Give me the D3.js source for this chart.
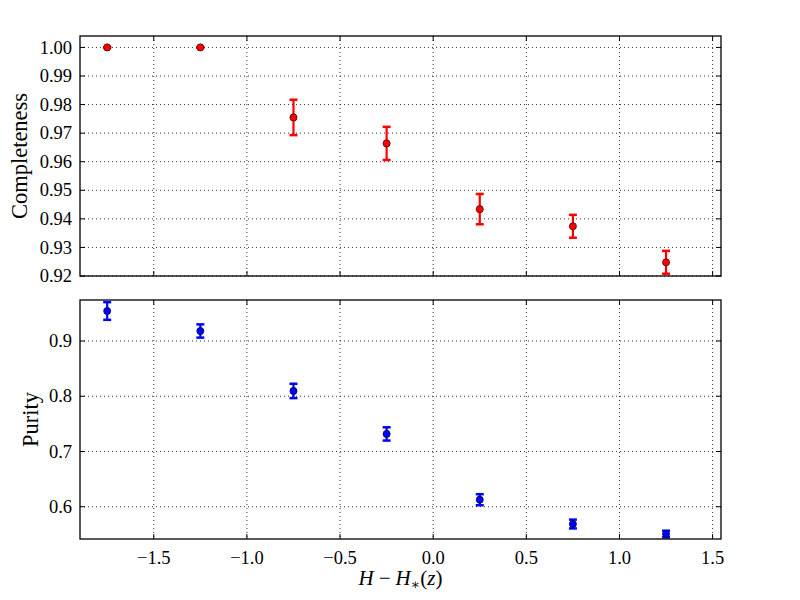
<!DOCTYPE html>
<html>
<head>
<meta charset="utf-8">
<script src="https://cdn.jsdelivr.net/npm/d3@7"></script>
<style>
body { margin: 0; background: #fff; }
text { font-family: "Liberation Serif", "DejaVu Serif", serif; fill: #000; }
</style>
</head>
<body>
<svg width="800" height="600"></svg>
<script>
// bins in H - H*(z)
var binCentres = [-1.75, -1.25, -0.75, -0.25, 0.25, 0.75, 1.25];
var completeness = [1.0, 1.0, 0.9755, 0.9664, 0.9434, 0.9374, 0.9248];
var completenessErr = [0.0, 0.0, 0.0062, 0.0058, 0.0053, 0.0040, 0.0040];
var purity = [0.9543, 0.9181, 0.8096, 0.7318, 0.6127, 0.5687, 0.5506];
var purityErr = [0.016, 0.012, 0.013, 0.012, 0.010, 0.008, 0.006];
var xTicks = [-1.5, -1.0, -0.5, 0.0, 0.5, 1.0, 1.5];
var compTicks = [0.92, 0.93, 0.94, 0.95, 0.96, 0.97, 0.98, 0.99, 1.00];
var purTicks = [0.6, 0.7, 0.8, 0.9];

var svg = d3.select("svg");
var left = 80, right = 721;

var x = d3.scaleLinear().domain([-1.896, 1.545]).range([left, right]);

function fmtMinus(s) { return s.replace("-", "\u2212"); }

function panel(opts) {
    var y = d3.scaleLinear().domain(opts.ydom).range([opts.bottom, opts.top]);
    var g = svg.append("g");

    // grid
    g.selectAll("line.gx").data(xTicks).enter().append("line")
        .attr("x1", function(d) { return x(d); }).attr("x2", function(d) { return x(d); })
        .attr("y1", opts.top).attr("y2", opts.bottom)
        .attr("stroke", "#000").attr("stroke-width", 0.8).attr("stroke-dasharray", "1,3");
    g.selectAll("line.gy").data(opts.yticks).enter().append("line")
        .attr("x1", left).attr("x2", right)
        .attr("y1", function(d) { return y(d); }).attr("y2", function(d) { return y(d); })
        .attr("stroke", "#000").attr("stroke-width", 0.8).attr("stroke-dasharray", "1,3");

    // inward ticks on all four sides
    var tl = 5;
    xTicks.forEach(function(t) {
        g.append("line").attr("x1", x(t)).attr("x2", x(t)).attr("y1", opts.bottom).attr("y2", opts.bottom - tl)
            .attr("stroke", "#000").attr("stroke-width", 1);
        g.append("line").attr("x1", x(t)).attr("x2", x(t)).attr("y1", opts.top).attr("y2", opts.top + tl)
            .attr("stroke", "#000").attr("stroke-width", 1);
    });
    opts.yticks.forEach(function(t) {
        g.append("line").attr("x1", left).attr("x2", left + tl).attr("y1", y(t)).attr("y2", y(t))
            .attr("stroke", "#000").attr("stroke-width", 1);
        g.append("line").attr("x1", right).attr("x2", right - tl).attr("y1", y(t)).attr("y2", y(t))
            .attr("stroke", "#000").attr("stroke-width", 1);
    });

    // y tick labels
    g.selectAll("text.yl").data(opts.yticks).enter().append("text")
        .attr("x", left - 8).attr("y", function(d) { return y(d); })
        .attr("dy", "0.33em").attr("text-anchor", "end")
        .style("font-size", "18.5px")
        .text(function(d) { return d3.format(opts.yfmt)(d); });

    // error bars
    var cap = 4;
    var eb = g.selectAll("g.eb").data(binCentres).enter().append("g");
    eb.append("line")
        .attr("x1", function(d) { return x(d); }).attr("x2", function(d) { return x(d); })
        .attr("y1", function(d, i) { return y(opts.vals[i] + opts.errs[i]); })
        .attr("y2", function(d, i) { return y(opts.vals[i] - opts.errs[i]); })
        .attr("stroke", opts.color).attr("stroke-width", 2.2);
    [1, -1].forEach(function(s) {
        eb.append("line")
            .attr("x1", function(d) { return x(d) - cap; }).attr("x2", function(d) { return x(d) + cap; })
            .attr("y1", function(d, i) { return y(opts.vals[i] + s * opts.errs[i]); })
            .attr("y2", function(d, i) { return y(opts.vals[i] + s * opts.errs[i]); })
            .attr("stroke", opts.color).attr("stroke-width", 2.5);
    });
    eb.append("circle")
        .attr("cx", function(d) { return x(d); })
        .attr("cy", function(d, i) { return y(opts.vals[i]); })
        .attr("r", 3.6)
        .attr("fill", opts.color).attr("stroke", "#000").attr("stroke-width", 0.6);

    // frame
    g.append("rect").attr("x", left).attr("y", opts.top)
        .attr("width", right - left).attr("height", opts.bottom - opts.top)
        .attr("fill", "none").attr("stroke", "#000").attr("stroke-width", 1.3);

    // y label
    g.append("text")
        .attr("transform", "translate(" + opts.labelX + "," + (opts.top + opts.bottom) / 2 + ") rotate(-90)")
        .attr("text-anchor", "middle")
        .style("font-size", "22.5px")
        .text(opts.label);
    return y;
}

panel({ top: 36, bottom: 276, ydom: [0.92, 1.004], yticks: compTicks, yfmt: ".2f",
        vals: completeness, errs: completenessErr, color: "#ff0000", label: "Completeness", labelX: 27 });
panel({ top: 300, bottom: 539, ydom: [0.5416, 0.9742], yticks: purTicks, yfmt: ".1f",
        vals: purity, errs: purityErr, color: "#0000ff", label: "Purity", labelX: 38 });

// x tick labels (bottom panel only)
svg.selectAll("text.xl").data(xTicks).enter().append("text")
    .attr("x", function(d) { return x(d); }).attr("y", 564)
    .attr("text-anchor", "middle")
    .style("font-size", "18.5px")
    .text(function(d) { return fmtMinus(d3.format(".1f")(d)); });

// x label
var xl = svg.append("text").attr("x", (left + right) / 2).attr("y", 585)
    .attr("text-anchor", "middle").style("font-size", "21px");
xl.append("tspan").style("font-style", "italic").text("H");
xl.append("tspan").attr("dx", 5).text("\u2212");
xl.append("tspan").attr("dx", 5).style("font-style", "italic").text("H");
xl.append("tspan").attr("dy", 4).style("font-size", "14px").text("\u2217");
xl.append("tspan").attr("dy", -4).text("(");
xl.append("tspan").style("font-style", "italic").text("z");
xl.append("tspan").text(")");
</script>
</body>
</html>
